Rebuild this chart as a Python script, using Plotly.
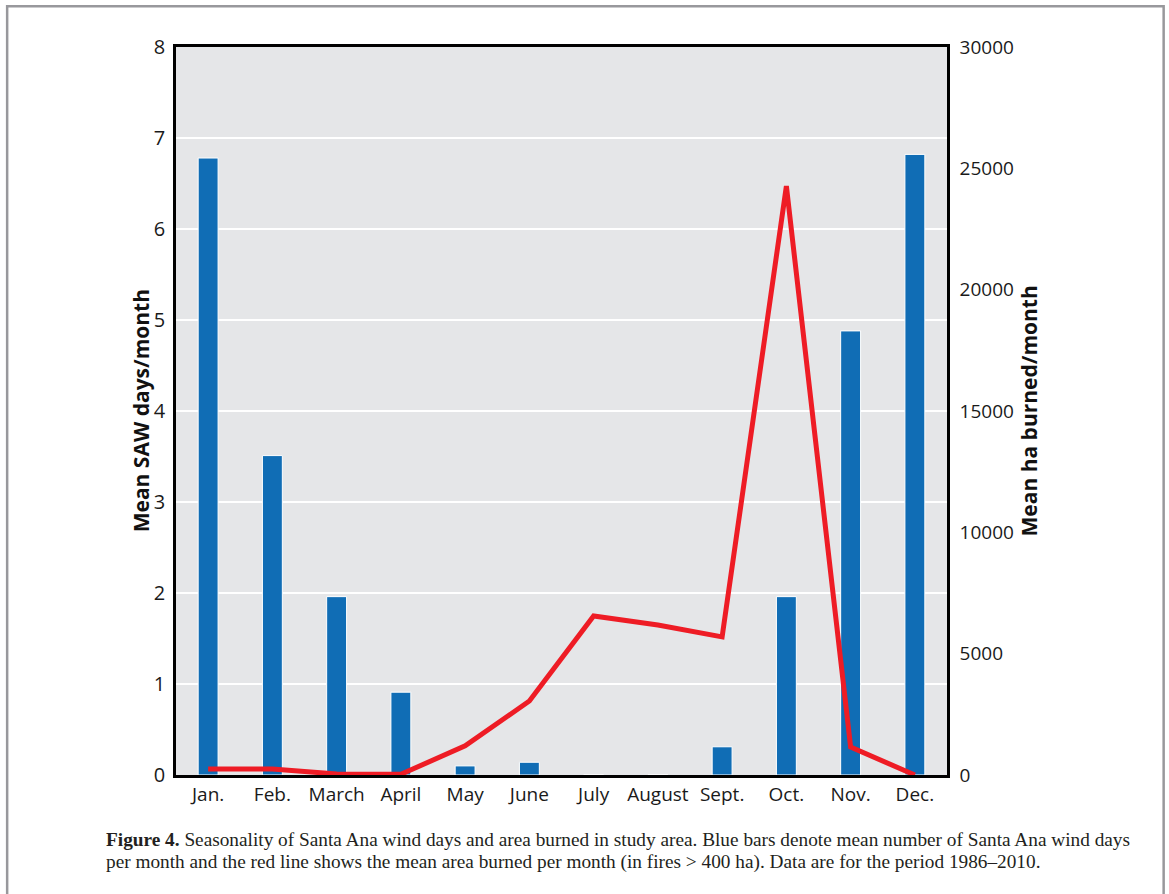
import plotly.graph_objects as go

months = ["Jan.", "Feb.", "March", "April", "May", "June", "July",
          "August", "Sept.", "Oct.", "Nov.", "Dec."]
saw_days = [6.78, 3.51, 1.96, 0.91, 0.10, 0.14, 0.0, 0.0, 0.31, 1.96, 4.88, 6.82]
ha_burned = [250, 250, 40, 30, 1200, 3050, 6550, 6180, 5690, 24270, 1150, 0]

left_ticks = [0, 1, 2, 3, 4, 5, 6, 7, 8]
right_ticks = [0, 5000, 10000, 15000, 20000, 25000, 30000]
right_labels = ["0", "5000", "10000", "15000", "20000", "25000", "30000"]

sans = "Open Sans, Noto Sans, sans-serif"
serif = "Liberation Serif, DejaVu Serif, serif"

fig = go.Figure()
fig.add_trace(go.Bar(
    x=months, y=saw_days, width=0.31,
    marker=dict(color="#106db5", line=dict(color="white", width=1)),
    yaxis="y", showlegend=False,
))
fig.add_trace(go.Scatter(
    x=months, y=ha_burned, mode="lines",
    line=dict(color="#ee1c25", width=5),
    yaxis="y2", showlegend=False,
))

fig.update_layout(
    width=1169, height=894,
    margin=dict(l=176, r=222, t=47, b=119),
    paper_bgcolor="white",
    plot_bgcolor="#e5e6e8",
    font=dict(family=sans, color="#1a1a1a"),
    xaxis=dict(
        type="category", showgrid=False, ticks="",
        tickfont=dict(size=19), linecolor="black", linewidth=2.5,
        mirror=True, showline=True,
    ),
    yaxis=dict(
        range=[0, 8], tickvals=left_ticks, showgrid=True,
        gridcolor="white", gridwidth=2, zeroline=False,
        tickfont=dict(size=20), linecolor="black", linewidth=2.5,
        showline=True, ticks="", ticklabelstandoff=4,
    ),
    yaxis2=dict(
        range=[0, 30000], tickvals=right_ticks, ticktext=right_labels,
        overlaying="y", side="right", showgrid=False, zeroline=False,
        tickfont=dict(size=19), linecolor="black", linewidth=2.5,
        showline=True, ticks="", ticklabelstandoff=6,
    ),
    annotations=[
        dict(text="<b>Mean SAW days/month</b>", textangle=-90,
             xref="paper", yref="paper", x=-0.045, y=0.5,
             xanchor="center", yanchor="middle", showarrow=False,
             font=dict(size=21, family=sans, color="#111")),
        dict(text="<b>Mean ha burned/month</b>", textangle=-90,
             xref="paper", yref="paper", x=1.107, y=0.5,
             xanchor="center", yanchor="middle", showarrow=False,
             font=dict(size=21, family=sans, color="#111")),
        dict(text="<b>Figure 4.</b> Seasonality of Santa Ana wind days and area burned in study area. "
                  "Blue bars denote mean number of Santa Ana wind days",
             xref="paper", yref="paper", x=-0.093, y=-0.088,
             xanchor="left", yanchor="middle", showarrow=False, align="left",
             font=dict(size=19.3, family=serif, color="#231f20")),
        dict(text="per month and the red line shows the mean area burned per month "
                  "(in fires &gt; 400 ha). Data are for the period 1986\u20132010.",
             xref="paper", yref="paper", x=-0.093, y=-0.119,
             xanchor="left", yanchor="middle", showarrow=False, align="left",
             font=dict(size=19.3, family=serif, color="#231f20")),
    ],
    shapes=[
        dict(type="rect", xref="paper", yref="paper",
             x0=-0.219, x1=1.281, y0=-0.3, y1=1.056,
             line=dict(color="#98989c", width=2.5), fillcolor="rgba(0,0,0,0)",
             layer="above"),
    ],
)

fig.write_html("out.html")
